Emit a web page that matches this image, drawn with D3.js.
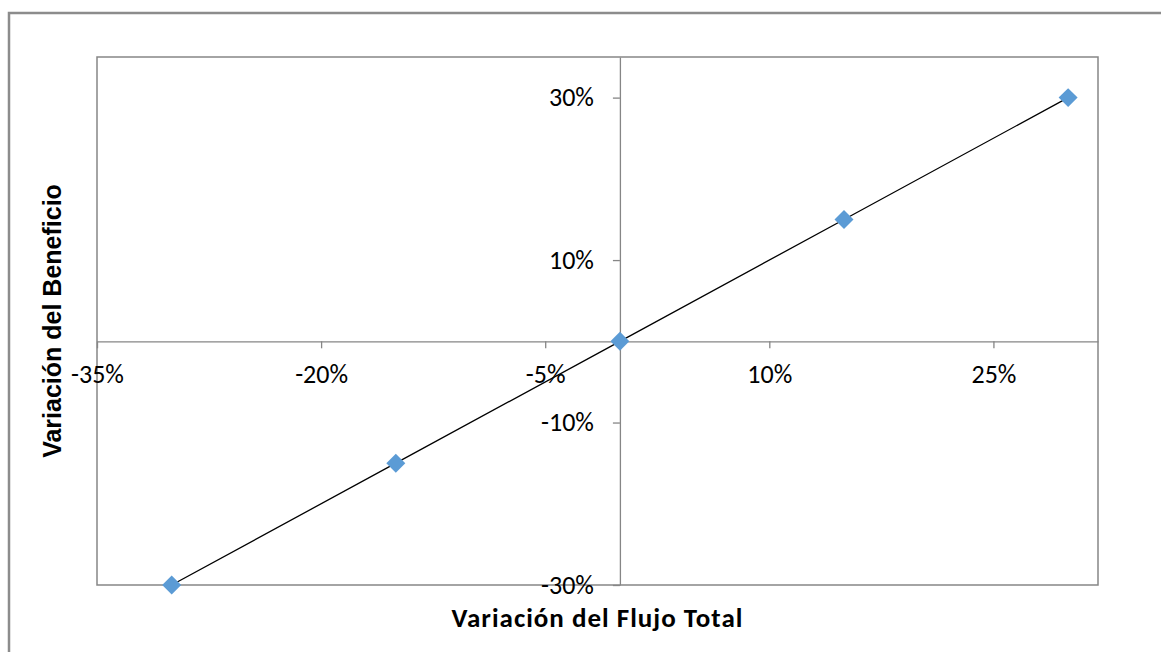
<!DOCTYPE html>
<html>
<head>
<meta charset="utf-8">
<script src="https://cdn.jsdelivr.net/npm/d3@7"></script>
<style>
  html, body { margin: 0; padding: 0; background: #fff; }
  svg { display: block; }
</style>
</head>
<body>
<div id="chart"></div>
<script>
// data (fractions)
const flujoTotal = [-0.30, -0.15, 0, 0.15, 0.30];
const beneficio = [-0.30, -0.15, 0, 0.15, 0.30];
const xTicks = [-0.35, -0.20, -0.05, 0.10, 0.25];
const yTicks = [-0.30, -0.10, 0.10, 0.30];
const xTitle = "Variación del Flujo Total";
const yTitle = "Variación del Beneficio";

const width = 1161, height = 652;
const plot = {left: 97, right: 1098, top: 57, bottom: 585};
const axisColor = "#868686";
const labelFont = "Carlito, Calibri, Lato, sans-serif";

const data = flujoTotal.map((x, i) => ({x, y: beneficio[i]}));

const xScale = d3.scaleLinear([-0.35, 0.32], [plot.left, plot.right]);
const yScale = d3.scaleLinear([-0.30, 0.35], [plot.bottom, plot.top]);
// Excel style: plain hyphen for negatives
const pct = d => Math.round(d * 100).toString() + "%";

const svg = d3.select("#chart").append("svg")
    .attr("width", width)
    .attr("height", height)
    .attr("viewBox", [0, 0, width, height]);

// chart area border (runs off the window on right and bottom)
svg.append("rect")
    .attr("x", 9).attr("y", 13)
    .attr("width", 1170).attr("height", 660)
    .attr("fill", "#fff")
    .attr("stroke", "#8c8c8c")
    .attr("stroke-width", 2.5);

// plot area border
svg.append("rect")
    .attr("x", plot.left).attr("y", plot.top)
    .attr("width", plot.right - plot.left)
    .attr("height", plot.bottom - plot.top)
    .attr("fill", "none")
    .attr("stroke", axisColor)
    .attr("stroke-width", 1.5);

// x axis crosses at y = 0
svg.append("g")
    .attr("transform", `translate(0,${yScale(0)})`)
    .call(d3.axisBottom(xScale).tickValues(xTicks).tickFormat(pct).tickSize(7).tickSizeOuter(0).tickPadding(16))
    .call(g => g.select(".domain").attr("stroke", axisColor).attr("stroke-width", 1.3))
    .call(g => g.selectAll(".tick line").attr("stroke", axisColor).attr("stroke-width", 1.3))
    .call(g => g.selectAll(".tick text")
        .attr("fill", "#000")
        .attr("font-family", labelFont)
        .attr("font-size", 26));

// y axis crosses at x = 0
svg.append("g")
    .attr("transform", `translate(${xScale(0)},0)`)
    .call(d3.axisLeft(yScale).tickValues(yTicks).tickFormat(pct).tickSize(7).tickSizeOuter(0).tickPadding(19))
    .call(g => g.select(".domain").attr("stroke", axisColor).attr("stroke-width", 1.3))
    .call(g => g.selectAll(".tick line").attr("stroke", axisColor).attr("stroke-width", 1.3))
    .call(g => g.selectAll(".tick text")
        .attr("fill", "#000")
        .attr("font-family", labelFont)
        .attr("font-size", 26));

// trend line through the points
const line = d3.line()
    .x(d => xScale(d.x))
    .y(d => yScale(d.y));

svg.append("path")
    .datum(data)
    .attr("fill", "none")
    .attr("stroke", "#000")
    .attr("stroke-width", 1.3)
    .attr("d", line);

// diamond markers
svg.append("g")
  .selectAll("path")
  .data(data)
  .join("path")
    .attr("transform", d => `translate(${xScale(d.x)},${yScale(d.y)}) rotate(45)`)
    .attr("d", d3.symbol(d3.symbolSquare, 180))
    .attr("fill", "#5b9bd5");

// axis titles
svg.append("text")
    .attr("x", (plot.left + plot.right) / 2)
    .attr("y", 627)
    .attr("text-anchor", "middle")
    .attr("font-family", labelFont)
    .attr("font-weight", "bold")
    .attr("font-size", 27)
    .attr("letter-spacing", 1)
    .text(xTitle);

svg.append("text")
    .attr("transform", `translate(61,${(plot.top + plot.bottom) / 2}) rotate(-90)`)
    .attr("text-anchor", "middle")
    .attr("font-family", "Arial, 'Liberation Sans', sans-serif")
    .attr("font-weight", "bold")
    .attr("font-size", 25)
    .text(yTitle);
</script>
</body>
</html>
